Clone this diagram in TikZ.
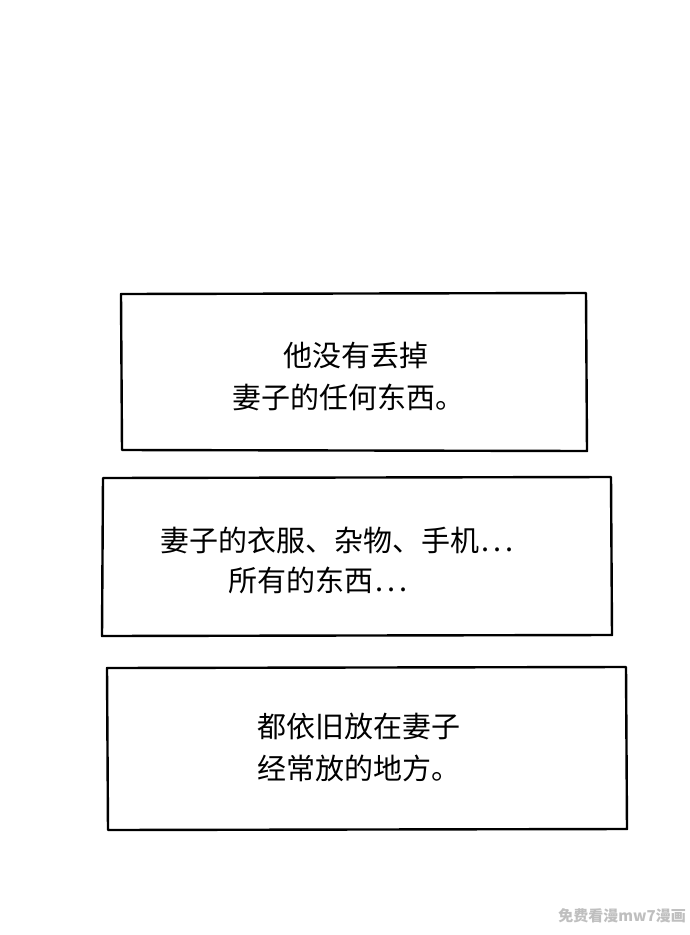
\documentclass[tikz,border=0pt]{standalone}
\usepackage{fontspec}
\newfontfamily\cjk{Noto Sans CJK SC}
\newcommand{\mydots}{\hspace{2pt}.\hspace{4pt}.\hspace{4pt}.}
\begin{document}
\begin{tikzpicture}[x=1pt,y=-1pt,
  panel/.style={draw=black,line width=2.4pt,line join=round},
  txt/.style={font=\cjk\fontsize{29}{34}\selectfont,anchor=west,inner sep=0pt}]
\useasboundingbox[fill=white] (0,0) rectangle (690,935);
\draw[panel] (121,294) coordinate (a1) -- (586,293) -- (587,451) -- (122,450) -- cycle;
\draw[panel] (103,478) coordinate (b1) -- (611,477) -- (612,635) -- (102,636) -- cycle;
\draw[panel] (107,668) coordinate (c1) -- (626,667) -- (627,829) -- (108,830) -- cycle;
\node[txt] (t1) at (283,355) {他没有丢掉};
\node[txt] (t2) at (232,397) {妻子的任何东西。};
\node[txt] (t3) at (160,540) {妻子的衣服、杂物、手机\mydots};
\node[txt] (t4) at (228,580) {所有的东西\mydots};
\node[txt] (t5) at (257,726) {都依旧放在妻子};
\node[txt] (t6) at (257,768) {经常放的地方。};
\node[font=\cjk\bfseries\fontsize{15}{16}\selectfont,text=black!25,anchor=east,inner sep=0pt] (w) at (686,916) {免费看漫mw7漫画};
\end{tikzpicture}
\end{document}
